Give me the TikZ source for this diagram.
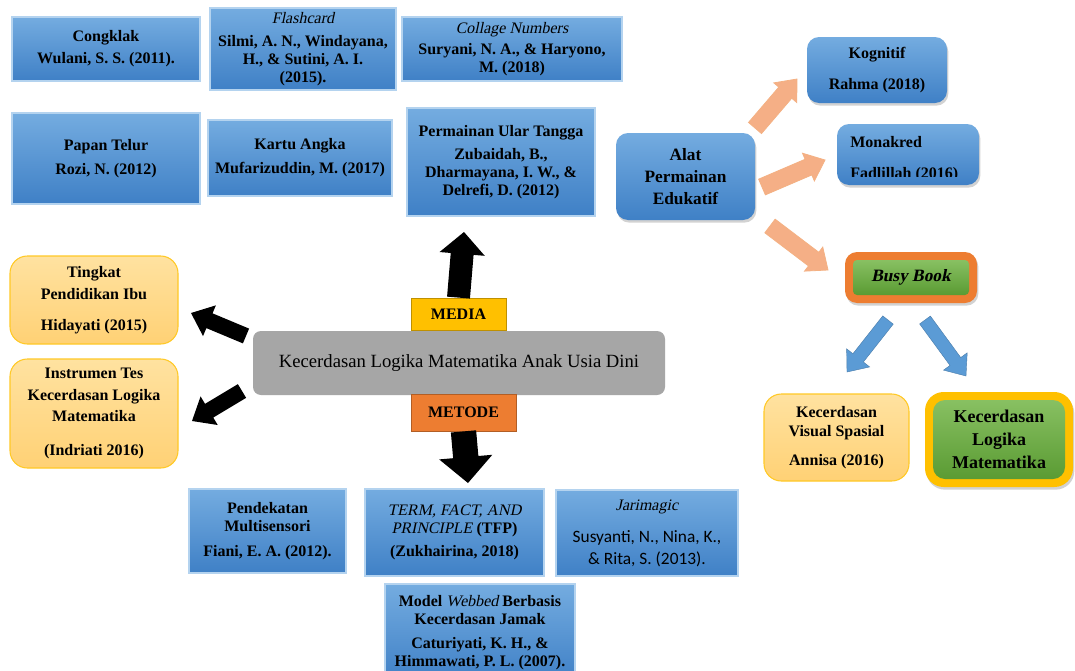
\documentclass[tikz,border=0pt]{standalone}
\usepackage{fontspec}
\setmainfont{Liberation Serif}
\newfontfamily\slserif{Liberation Serif}[FakeSlant=0.21]
\newfontfamily\sansf{Carlito}
\newcommand\jsans{\sansf\mdseries\fontsize{13}{16}\selectfont}
\newcommand\itl{\slserif\mdseries}
\usetikzlibrary{calc,shadows}
\definecolor{bluetop}{HTML}{74ACE0}
\definecolor{bluebot}{HTML}{3F80C6}
\definecolor{blueedge}{HTML}{B4D3EF}
\definecolor{peachtop}{HTML}{FFE2A0}
\definecolor{peachbot}{HTML}{FFD175}
\definecolor{gold}{HTML}{FFC000}
\definecolor{orng}{HTML}{ED7D31}
\definecolor{greentop}{HTML}{88C062}
\definecolor{greenbot}{HTML}{5A9B33}
\definecolor{salmon}{HTML}{F5AF86}
\definecolor{arrblue}{HTML}{5B9BD5}
\definecolor{greybox}{HTML}{A6A6A6}
\newcommand\blockarrow[6]{%
 \path[#6] ($(#1)!#3!90:(#2)$) -- ($($(#2)!#5!(#1)$)!#3!-90:(#1)$)
  -- ($($(#2)!#5!(#1)$)!#4!-90:(#1)$) -- (#2)
  -- ($($(#2)!#5!(#1)$)!#4!90:(#1)$) -- ($($(#2)!#5!(#1)$)!#3!90:(#1)$)
  -- ($(#1)!#3!-90:(#2)$) -- cycle;}
% style, name, x1, y1, x2, y2, text
\newcommand\bnode[7]{\node[#1, minimum width={(#5-#3)*0.75pt}, minimum height={(#6-#4)*0.75pt}] (#2) at ({(#3+#5)/2},{(#4+#6)/2}) {#7};}
\tikzset{
 box/.style={inner sep=0pt, align=center, text=black, font=\bfseries\fontsize{12}{13.5}\selectfont},
 bluebox/.style={box, top color=bluetop, bottom color=bluebot, draw=blueedge, line width=0.8pt},
 shad/.style={drop shadow={shadow xshift=1pt, shadow yshift=-2pt, opacity=0.35}},
 bluerbox/.style={box, top color=bluetop, bottom color=bluebot, rounded corners=9pt, shad},
 peachbox/.style={box, top color=peachtop, bottom color=peachbot, draw=gold!85, line width=0.8pt, rounded corners=13pt},
 greenbox/.style={box, top color=greentop, bottom color=greenbot},
 blackarrow/.style={fill=black},
 orangearrow/.style={fill=salmon, draw=orng!60, line width=0.6pt},
 bluearrow/.style={fill=arrblue, draw=arrblue!80!black, line width=0.3pt},
}
\begin{document}
\begin{tikzpicture}[x=0.75pt,y=-0.75pt]
\clip (0,0) rectangle (1075,671);
\fill[white] (0,0) rectangle (1075,671);

% top-left media boxes
\bnode{bluebox}{congklak}{12}{17}{200}{81}{Congklak\\[3pt]Wulani, S. S. (2011).}
\bnode{bluebox}{flash}{210}{8}{396}{90}{{\itl Flashcard}\\[3.5pt]Silmi, A. N., Windayana,\\H., \& Sutini, A. I.\\(2015).}
\bnode{bluebox}{collage}{402}{17}{622}{81}{{\itl Collage Numbers}\\[2.5pt]Suryani, N. A., \& Haryono,\\M. (2018)}
\bnode{bluebox}{papan}{12}{113}{200}{204}{Papan Telur\\[5pt]Rozi, N. (2012)}
\bnode{bluebox}{kartu}{208}{120}{392}{196}{Kartu Angka\\[4.5pt]Mufarizuddin, M. (2017)}
\bnode{bluebox}{ular}{407}{108}{595}{216}{Permainan Ular Tangga\\[3.5pt]Zubaidah, B.,\\Dharmayana, I. W., \&\\Delrefi, D. (2012)}

% right side
\bnode{bluerbox, font=\bfseries\fontsize{13}{16.5}\selectfont}{alat}{616}{133}{755}{220}{Alat\\Permainan\\Edukatif}
\bnode{bluerbox}{kognitif}{807}{37}{947}{103}{Kognitif\\[10pt]Rahma (2018)}
\bnode{bluerbox}{monakred}{837}{124}{979}{185}{}
\begin{scope}
\clip (837,124) rectangle (979,176);
\node[box, anchor=north west, align=left] (monatext) at (850,136) {Monakred\\[10pt]Fadlillah (2016)};
\end{scope}
\bnode{fill=orng, rounded corners=9pt, inner sep=0pt, shad}{busyouter}{845}{252}{977}{303}{}
\bnode{greenbox, rounded corners=3pt, font=\slserif\bfseries\fontsize{13}{15}\selectfont}{busy}{853}{260}{969}{295}{Busy Book}
\bnode{peachbox}{visual}{764}{394}{909}{481}{Kecerdasan\\[1pt]Visual Spasial\\[8pt]Annisa (2016)}
\bnode{fill=gold, rounded corners=14pt, inner sep=0pt, shad}{logikaouter}{925}{392}{1073}{487}{}
\bnode{greenbox, rounded corners=9pt, font=\bfseries\fontsize{13.5}{17}\selectfont}{logika}{933}{400}{1065}{479}{Kecerdasan\\Logika\\Matematika}

% centre
\bnode{fill=greybox, rounded corners=6pt, inner sep=0pt, align=center, font=\fontsize{14}{16}\selectfont}{center}{253}{331}{665}{395}{Kecerdasan Logika Matematika Anak Usia Dini}
\bnode{box, fill=gold, draw=gold!75!black, line width=0.6pt}{media}{411}{298}{506}{330}{MEDIA}
\bnode{box, fill=orng, draw=orng!75!black, line width=0.6pt}{metode}{411}{394}{516}{431}{METODE}

% left peach boxes
\bnode{peachbox}{tingkat}{10}{256}{178}{344}{Tingkat\\[3pt]Pendidikan Ibu\\[10pt]Hidayati (2015)}
\bnode{peachbox}{instrumen}{10}{359}{178}{468}{Instrumen Tes\\[2.5pt]Kecerdasan Logika\\[2.5pt]Matematika\\[12pt](Indriati 2016)}

% bottom method boxes
\bnode{bluebox}{pendekatan}{189}{489}{346}{573}{Pendekatan\\Multisensori\\[5pt]Fiani, E. A. (2012).}
\bnode{bluebox}{term}{365}{489}{544}{576}{{\itl TERM, FACT, AND}\\{\itl PRINCIPLE} (TFP)\\[4pt](Zukhairina, 2018)}
\bnode{bluebox}{jari}{556}{490}{738}{576}{{\itl Jarimagic}\\[11pt]{\jsans Susyanti, N., Nina, K.,}\\[2.5pt]{\jsans\&~Rita, S. (2013).}}
\bnode{bluebox}{webbed}{385}{584}{575}{682}{Model {\itl Webbed} Berbasis\\Kecerdasan Jamak\\[4.5pt]Caturiyati, K. H., \&\\Himmawati, P. L. (2007).}

% arrow end points
\coordinate (mediatip) at (464,232);
\coordinate (metodetip) at (468,483);
\coordinate (lefttail1) at (246,336);
\coordinate (lefttip1) at (191,313);
\coordinate (lefttail2) at (242,391);
\coordinate (lefttip2) at (192,421);
\coordinate (otail1) at (755,128);
\coordinate (otail2) at (762,187);
\coordinate (otail3) at (770,226);
\coordinate (otip1) at (797,79);
\coordinate (otip2) at (825,160);
\coordinate (otip3) at (828,270);
\coordinate (btail1) at (888,320);
\coordinate (btip1) at (847,372);
\coordinate (btail2) at (925,320);
\coordinate (btip2) at (966,376);

\blockarrow{media.north}{mediatip}{8.6pt}{17pt}{16.5pt}{blackarrow}
\blockarrow{metode.south}{metodetip}{9.5pt}{20pt}{19.5pt}{blackarrow}
\blockarrow{lefttail1}{lefttip1}{6pt}{12.5pt}{15pt}{blackarrow}
\blockarrow{lefttail2}{lefttip2}{6pt}{12.5pt}{15pt}{blackarrow}
\blockarrow{otail1}{otip1}{6.4pt}{11.3pt}{13.5pt}{orangearrow}
\blockarrow{otail2}{otip2}{6.4pt}{11.3pt}{13.5pt}{orangearrow}
\blockarrow{otail3}{otip3}{6.4pt}{11.3pt}{13.5pt}{orangearrow}
\blockarrow{btail1}{btip1}{5pt}{11pt}{13.5pt}{bluearrow}
\blockarrow{btail2}{btip2}{5pt}{11pt}{13.5pt}{bluearrow}
\end{tikzpicture}
\end{document}
